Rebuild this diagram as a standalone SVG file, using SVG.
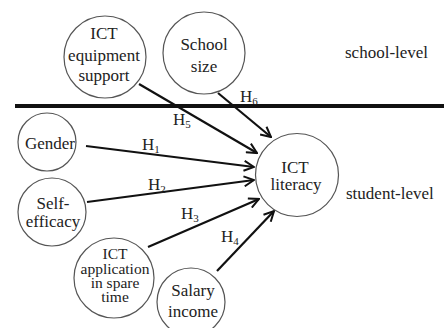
<svg xmlns="http://www.w3.org/2000/svg" width="444" height="328" viewBox="0 0 444 328">
<style>
.node circle{fill:#fff;stroke:#555;stroke-width:1.2}
text{font-family:"Liberation Serif","Times New Roman",serif;font-size:17px;fill:#222;text-anchor:middle}
.tight{font-size:15.5px}
.lbl{text-anchor:start;font-size:17px}
.sub{font-size:11px}
.conn line{stroke:#111;stroke-width:2.2;marker-end:url(#arr)}
.lvl{text-anchor:start;font-size:17px}
</style>
<defs>
<marker id="arr" viewBox="0 0 12 12" refX="11" refY="6" markerWidth="12" markerHeight="12" markerUnits="userSpaceOnUse" orient="auto">
<path d="M1,1 L11,6 L1,11" fill="none" stroke="#111" stroke-width="2"/>
</marker>
</defs>
<rect width="444" height="328" fill="#fff"/>
<line x1="15" y1="106" x2="444" y2="106" stroke="#111" stroke-width="4"/>
<text class="lvl" x="345" y="58">school-level</text>
<text class="lvl" x="346" y="199">student-level</text>
<g class="conn">
<line x1="139" y1="84" x2="257" y2="153"/>
<line x1="218" y1="93" x2="271" y2="137"/>
<line x1="86" y1="146" x2="254" y2="167"/>
<line x1="87" y1="202" x2="254" y2="180"/>
<line x1="148" y1="247" x2="259" y2="199"/>
<line x1="217" y1="271" x2="274" y2="211"/>
<text class="lbl" x="173" y="125">H<tspan class="sub" dy="3">5</tspan></text>
<text class="lbl" x="240" y="102">H<tspan class="sub" dy="3">6</tspan></text>
<text class="lbl" x="142" y="150">H<tspan class="sub" dy="3">1</tspan></text>
<text class="lbl" x="148" y="190">H<tspan class="sub" dy="3">2</tspan></text>
<text class="lbl" x="181" y="219">H<tspan class="sub" dy="3">3</tspan></text>
<text class="lbl" x="221" y="242">H<tspan class="sub" dy="3">4</tspan></text>
</g>
<g id="ict-equipment" class="node">
<circle cx="105" cy="57" r="41"/>
<text x="104" y="39">ICT</text>
<text x="104" y="61">equipment</text>
<text x="104" y="81">support</text>
</g>
<g id="school-size" class="node">
<circle cx="204" cy="53" r="41"/>
<text x="204" y="50">School</text>
<text x="204" y="72">size</text>
</g>
<g id="gender" class="node">
<circle cx="47" cy="142" r="29"/>
<text x="50" y="149">Gender</text>
</g>
<g id="self-efficacy" class="node">
<circle cx="52" cy="212" r="34"/>
<text x="53" y="209">Self-</text>
<text x="53" y="227">efficacy</text>
</g>
<g id="ict-application" class="node">
<circle cx="114" cy="278" r="40"/>
<text class="tight" x="115" y="259">ICT</text>
<text class="tight" x="115" y="274">application</text>
<text class="tight" x="115" y="288">in spare</text>
<text class="tight" x="115" y="302">time</text>
</g>
<g id="salary-income" class="node">
<circle cx="191" cy="302" r="34"/>
<text x="193" y="296">Salary</text>
<text x="193" y="317">income</text>
</g>
<g id="ict-literacy" class="node">
<circle cx="297" cy="175" r="41.5"/>
<text x="295" y="173">ICT</text>
<text x="296" y="190">literacy</text>
</g>
</svg>
